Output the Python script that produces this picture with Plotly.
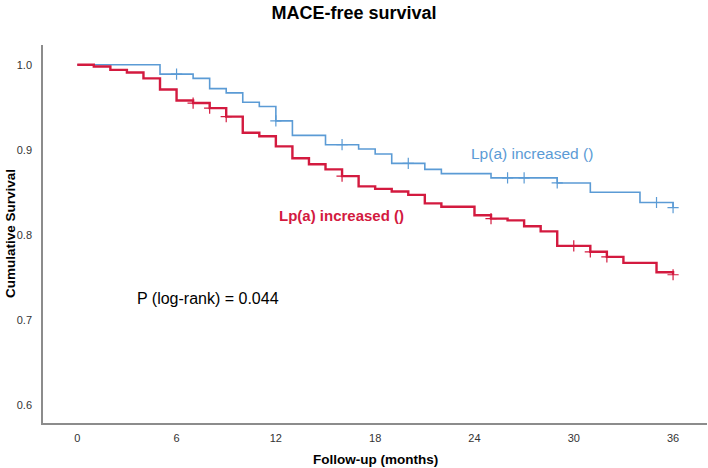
import plotly.graph_objects as go

# ---- data ----
months_blue = [0, 5, 7, 8, 9, 10, 11, 12, 13, 15, 17, 18, 19, 21, 22, 25, 29, 31, 34, 36]
surv_blue = [1.0, 0.989, 0.984, 0.972, 0.967, 0.956, 0.951, 0.934, 0.917, 0.906,
             0.901, 0.895, 0.884, 0.877, 0.872, 0.867, 0.861, 0.850, 0.838, 0.832]
censor_blue = [6, 12, 16, 20, 26, 27, 29, 35, 36]

months_red = [0, 1, 2, 3, 4, 5, 6, 7, 8, 9, 10, 11, 12, 13, 14, 15, 16, 17, 18, 19, 20,
              21, 22, 24, 25, 26, 27, 28, 29, 31, 32, 33, 35, 36]
surv_red = [1.0, 0.998, 0.994, 0.991, 0.984, 0.971, 0.958, 0.955, 0.949, 0.939, 0.920,
            0.916, 0.904, 0.890, 0.883, 0.877, 0.869, 0.857, 0.854, 0.851, 0.847,
            0.837, 0.833, 0.823, 0.819, 0.817, 0.810, 0.804, 0.787, 0.780, 0.774,
            0.767, 0.756, 0.753]
censor_red = [7, 8, 9, 16, 25, 30, 31, 32, 36]

x_ticks = [0, 6, 12, 18, 24, 30, 36]
y_ticks = [0.6, 0.7, 0.8, 0.9, 1.0]

label_blue = "Lp(a) increased ()"
label_red = "Lp(a) increased ()"
p_text = "P (log-rank) = 0.044"

BLUE = "#5b9bd5"
RED = "#d31a3f"
FONT = "Liberation Sans, Arial, sans-serif"


def step_value(times, surv, t):
    v = surv[0]
    for tt, s in zip(times, surv):
        if tt <= t:
            v = s
    return v


fig = go.Figure()

fig.add_trace(go.Scatter(x=months_blue, y=surv_blue, mode="lines", line_shape="hv",
                         line=dict(color=BLUE, width=1.6), showlegend=False, hoverinfo="skip"))
fig.add_trace(go.Scatter(x=censor_blue, y=[step_value(months_blue, surv_blue, t) for t in censor_blue],
                         mode="markers", marker=dict(symbol="cross-thin", size=8,
                                                      line=dict(color=BLUE, width=1.2)),
                         showlegend=False, hoverinfo="skip"))
fig.add_trace(go.Scatter(x=months_red, y=surv_red, mode="lines", line_shape="hv",
                         line=dict(color=RED, width=2.4), showlegend=False, hoverinfo="skip"))
fig.add_trace(go.Scatter(x=censor_red, y=[step_value(months_red, surv_red, t) for t in censor_red],
                         mode="markers", marker=dict(symbol="cross-thin", size=8,
                                                      line=dict(color=RED, width=1.2)),
                         showlegend=False, hoverinfo="skip"))

fig.update_layout(
    width=708, height=468,
    margin=dict(l=43, r=1, t=45, b=45, autoexpand=False),
    paper_bgcolor="white", plot_bgcolor="white",
    font=dict(family=FONT, color="#333333"),
    title=dict(text="<b>MACE-free survival</b>", x=0.5, xref="container", xanchor="center",
               y=1 - 13 / 468, yref="container", yanchor="middle",
               font=dict(size=18, color="#000000", family=FONT)),
    xaxis=dict(range=[-2.07, 38.05], tickvals=x_ticks, ticktext=[str(v) for v in x_ticks],
               showgrid=False, zeroline=False, showline=True, linecolor="#8c8c8c", linewidth=1.5,
               ticks="", ticklabelstandoff=4, automargin=False,
               tickfont=dict(size=11, color="#333333")),
    yaxis=dict(range=[0.5786, 1.0233], tickvals=y_ticks, ticktext=["%.1f" % v for v in y_ticks],
               showgrid=False, zeroline=False, showline=True, linecolor="#8c8c8c", linewidth=1.5,
               ticks="", ticklabelstandoff=7, automargin=False,
               tickfont=dict(size=11, color="#333333")),
    annotations=[
        dict(text=label_blue, x=27.47, y=0.8959, xref="x", yref="y", showarrow=False,
             xanchor="center", yanchor="middle", font=dict(size=15.5, color=BLUE, family=FONT)),
        dict(text="<b>" + label_red + "</b>", x=15.98, y=0.8233, xref="x", yref="y", showarrow=False,
             xanchor="center", yanchor="middle", font=dict(size=15, color=RED, family=FONT)),
        dict(text=p_text, x=3.46, y=0.7245, xref="x", yref="y", showarrow=False,
             xanchor="left", yanchor="middle", font=dict(size=16, color="#000000", family=FONT)),
        dict(text="<b>Follow-up (months)</b>", x=0.5, y=0, xref="paper", yref="paper",
             yshift=-36, showarrow=False, xanchor="center", yanchor="middle",
             font=dict(size=13.5, color="#000000", family=FONT)),
        dict(text="<b>Cumulative Survival</b>", x=0, y=0.5, xref="paper", yref="paper",
             xshift=-33, showarrow=False, xanchor="center", yanchor="middle", textangle=-90,
             font=dict(size=13.5, color="#000000", family=FONT)),
    ],
)

fig.write_html("out.html", config={"displayModeBar": False},
               post_script="document.body.style.margin='0';document.body.style.padding='0';")
